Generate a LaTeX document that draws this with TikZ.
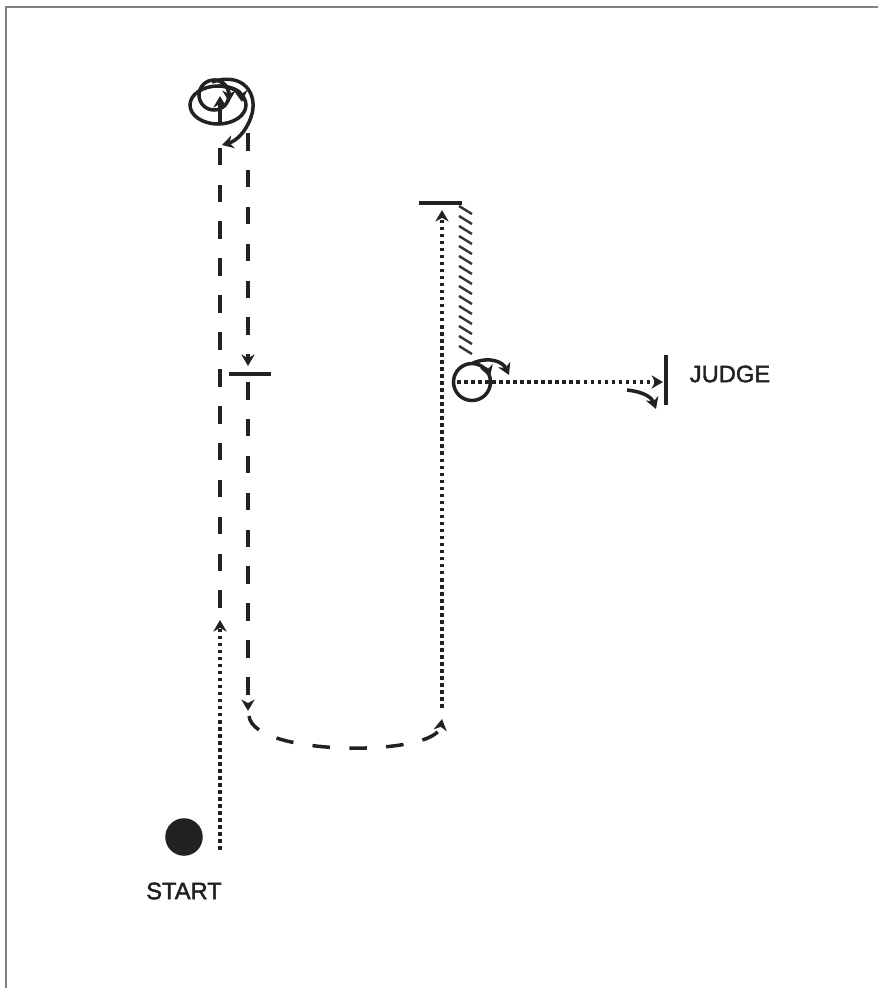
\documentclass[tikz,border=0pt]{standalone}
\usepackage{fontspec}
\setmainfont{Liberation Sans}
\newfontfamily\labelfont{Liberation Sans}[FakeBold=2]
\usetikzlibrary{arrows.meta}
\definecolor{ink}{HTML}{222222}
\tikzset{
  walk/.style={dash pattern=on 2pt off 2pt},
  trot/.style={dash pattern=on 10pt off 11pt},
  tip/.style={-{Stealth[length=6.5pt,width=7.5pt,inset=2pt]}},
  hatch/.style={line width=1.4pt,color=ink!90},
  label/.style={font=\labelfont\fontsize{13.5}{16}\selectfont,text=ink},
}
\begin{document}
\begin{tikzpicture}[x=0.02cm,y=-0.02cm,line width=2pt,color=ink]
\useasboundingbox (0,0) rectangle (877,988);
\draw[gray,line width=1pt] (880,7) -- (6,7) -- (6,991);
\coordinate (a1) at (220,850);
\coordinate (a2) at (220,620);
\coordinate (a3) at (220,608);
\coordinate (a4) at (220,148);
\coordinate (b1) at (248,133);
\coordinate (b2) at (248,366);
\coordinate (b3) at (248,382);
\coordinate (b4) at (248,711);
\coordinate (c1) at (249,716);
\coordinate (c2) at (442,719);
\coordinate (d1) at (442,708);
\coordinate (d2) at (442,210);
\coordinate (e1) at (457,382);
\coordinate (e2) at (663,382);
\filldraw (184,837) circle [radius=17];
\node[label] (start) at (184,891) {START};
\node[label] (judge) at (730,374) {JUDGE};
\draw[walk,tip] (a1) -- (a2);
\draw[trot] (a3) -- (a4);
\draw[trot,tip] (b1) -- (b2);
\draw (229,374) -- (271,374);
\draw[trot,tip] (b3) -- (b4);
\draw[trot,tip] (c1) .. controls (254,757) and (436,757) .. (c2);
\draw[walk,tip] (d1) -- (d2);
\draw (419,203) -- (462,203);
\foreach \y in {206,216,...,352}
  \draw[hatch] (459,\y) -- (472,\y+8);
\draw (472,382) circle [radius=18.5];
\draw[tip] (485,368) .. controls (488,371) .. (490,377);
\draw[tip] (473,363) .. controls (490,356) and (503,362) .. (509,375);
\draw[walk,tip] (e1) -- (e2);
\draw (666,355) -- (666,405);
\draw[tip] (627,390) .. controls (645,392) and (652,398) .. (656,409);
\draw (218,105) ellipse [x radius=28,y radius=19];
\draw (214,95) circle [radius=15];
\draw[tip] (220,123) -- (220,96);
\draw[tip] (214,80) .. controls (223,80) and (229,88) .. (229,102);
\draw[tip] (218,86) .. controls (233,86) and (241,92) .. (242,102);
\draw[tip] (212,82) .. controls (244,71) and (259,95) .. (251,117)
  .. controls (246,132) and (236,141) .. (222,145);
\end{tikzpicture}
\end{document}
